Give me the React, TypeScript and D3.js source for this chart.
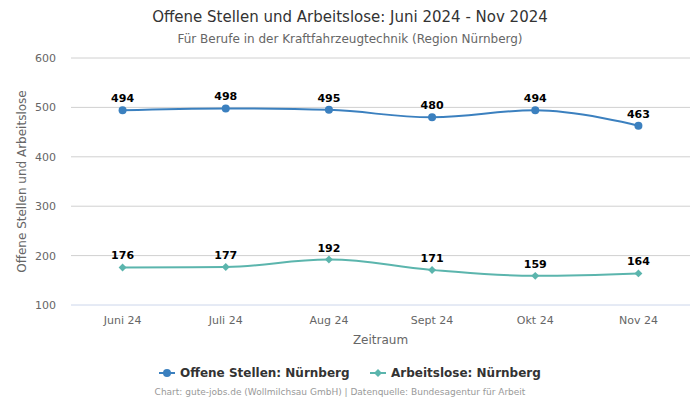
import React from "react";
import * as d3 from "d3";

const categories = ["Juni 24", "Juli 24", "Aug 24", "Sept 24", "Okt 24", "Nov 24"];
const offeneStellen = [494, 498, 495, 480, 494, 463];
const arbeitslose = [176, 177, 192, 171, 159, 164];
const yTicks = [100, 200, 300, 400, 500, 600];

const W = 700, H = 400;
const left = 71, right = 690, top = 58, bottom = 305;
const FONT = "'DejaVu Sans', sans-serif";

function splinePath(pts: [number, number][]): string {
  const smoothing = 1.5, denom = smoothing + 1;
  const ctrl = pts.map((p, i) => {
    if (i === 0 || i === pts.length - 1) return null;
    const [x, y] = p;
    const [lx, ly] = pts[i - 1];
    const [nx, ny] = pts[i + 1];
    const lcx = (smoothing * x + lx) / denom;
    let lcy = (smoothing * y + ly) / denom;
    const rcx = (smoothing * x + nx) / denom;
    let rcy = (smoothing * y + ny) / denom;
    if (rcx !== lcx) {
      const corr = ((rcy - lcy) * (rcx - x)) / (rcx - lcx) + y - rcy;
      lcy += corr;
      rcy += corr;
    }
    if (lcy > ly && lcy > y) { lcy = Math.max(ly, y); rcy = 2 * y - lcy; }
    else if (lcy < ly && lcy < y) { lcy = Math.min(ly, y); rcy = 2 * y - lcy; }
    if (rcy > ny && rcy > y) { rcy = Math.max(ny, y); lcy = 2 * y - rcy; }
    else if (rcy < ny && rcy < y) { rcy = Math.min(ny, y); lcy = 2 * y - rcy; }
    return { lcx, lcy, rcx, rcy };
  });
  const path = d3.path();
  pts.forEach((p, i) => {
    if (i === 0) { path.moveTo(p[0], p[1]); return; }
    const prev = pts[i - 1];
    const pc = ctrl[i - 1];
    const c = ctrl[i];
    path.bezierCurveTo(
      pc ? pc.rcx : prev[0], pc ? pc.rcy : prev[1],
      c ? c.lcx : p[0], c ? c.lcy : p[1],
      p[0], p[1]
    );
  });
  return path.toString();
}

export default function App() {
  const x = d3.scaleBand<string>().domain(categories).range([left, right]);
  const y = d3.scaleLinear().domain([100, 600]).range([bottom, top]);
  const cx = (c: string) => (x(c) as number) + x.bandwidth() / 2;

  const c1 = "#3b80bf";
  const c2 = "#5bb5ad";
  const p1: [number, number][] = categories.map((c, i) => [cx(c), y(offeneStellen[i])]);
  const p2: [number, number][] = categories.map((c, i) => [cx(c), y(arbeitslose[i])]);
  const diamond = d3.symbol().type(d3.symbolDiamond2).size(40)();

  return (
    <svg width={W} height={H} style={{ display: "block", position: "absolute", left: 0, top: 0, fontFamily: FONT }}>
      <rect width={W} height={H} fill="#fff" />
      <text x={350} y={22} textAnchor="middle" fontSize={15} fill="#333">
        Offene Stellen und Arbeitslose: Juni 2024 - Nov 2024
      </text>
      <text x={350} y={43} textAnchor="middle" fontSize={12} fill="#666">
        Für Berufe in der Kraftfahrzeugtechnik (Region Nürnberg)
      </text>
      {yTicks.map((t) => (
        <g key={t}>
          <line x1={left} x2={right} y1={y(t)} y2={y(t)} stroke={t === 100 ? "#ccd6eb" : "#d0d0d0"} strokeWidth={1} />
          <text x={56} y={y(t) + 4} textAnchor="end" fontSize={11} fill="#666">{t}</text>
        </g>
      ))}
      {categories.map((c) => (
        <text key={c} x={cx(c)} y={324} textAnchor="middle" fontSize={11} fill="#666">{c}</text>
      ))}
      <text x={(left + right) / 2} y={344} textAnchor="middle" fontSize={12} fill="#666">Zeitraum</text>
      <text transform={`translate(26,${(top + bottom) / 2}) rotate(-90)`} textAnchor="middle" fontSize={12} fill="#666">
        Offene Stellen und Arbeitslose
      </text>
      <path d={splinePath(p1)} fill="none" stroke={c1} strokeWidth={2} />
      <path d={splinePath(p2)} fill="none" stroke={c2} strokeWidth={2} />
      {p1.map((p, i) => (
        <g key={"a" + i}>
          <circle cx={p[0]} cy={p[1]} r={4} fill={c1} />
          <text x={p[0]} y={p[1] - 8} textAnchor="middle" fontSize={11} fontWeight="bold" fill="#000">{offeneStellen[i]}</text>
        </g>
      ))}
      {p2.map((p, i) => (
        <g key={"b" + i}>
          <path d={diamond as string} transform={`translate(${p[0]},${p[1]})`} fill={c2} />
          <text x={p[0]} y={p[1] - 8} textAnchor="middle" fontSize={11} fontWeight="bold" fill="#000">{arbeitslose[i]}</text>
        </g>
      ))}
      <g>
        <line x1={159} x2={175} y1={373} y2={373} stroke={c1} strokeWidth={2} />
        <circle cx={167} cy={373} r={4} fill={c1} />
        <text x={180} y={377} fontSize={12} fontWeight="bold" fill="#333">Offene Stellen: Nürnberg</text>
        <line x1={370} x2={386} y1={373} y2={373} stroke={c2} strokeWidth={2} />
        <path d={diamond as string} transform="translate(378,373)" fill={c2} />
        <text x={391} y={377} fontSize={12} fontWeight="bold" fill="#333">Arbeitslose: Nürnberg</text>
      </g>
      <text x={340} y={395} textAnchor="middle" fontSize={9} fill="#999">
        Chart: gute-jobs.de (Wollmilchsau GmbH) | Datenquelle: Bundesagentur für Arbeit
      </text>
    </svg>
  );
}
